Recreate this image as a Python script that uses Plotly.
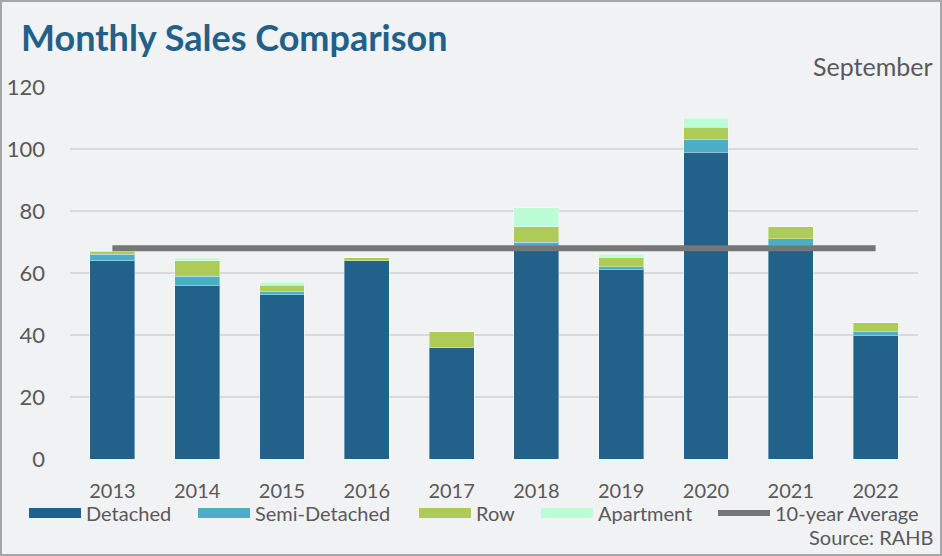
import plotly.graph_objects as go

years = ["2013", "2014", "2015", "2016", "2017", "2018", "2019", "2020", "2021", "2022"]
detached = [64, 56, 53, 64, 36, 69, 61, 99, 69, 40]
semi_detached = [2, 3, 1, 0, 0, 1, 1, 4, 2, 1]
row = [1, 5, 2, 1, 5, 5, 3, 4, 4, 3]
apartment = [0, 1, 1, 0, 0, 6, 1, 3, 0, 0]
ten_year_avg = [68] * 10
y_ticks = [0, 20, 40, 60, 80, 100, 120]

C_DET = "#22618A"
C_SEMI = "#4BADC6"
C_ROW = "#ADCB56"
C_APT = "#BCFDD6"
C_AVG = "#767676"
BG = "#F1F2F4"
TXT = "#595959"
FONT = "Lato"

W, H = 942, 556
L, R, T, B = 70, 24, 87, 97
PW, PH = W - L - R, H - T - B

series = [("Detached", detached, C_DET), ("Semi-Detached", semi_detached, C_SEMI),
          ("Row", row, C_ROW), ("Apartment", apartment, C_APT)]
legend_ids = ["legend", "legend2", "legend3", "legend4", "legend5"]
legend_px = [24, 193, 414, 536, 713]

fig = go.Figure()
for name, vals, col in series:
    fig.add_trace(go.Bar(x=years, y=vals, name=name,
                         marker=dict(color=col, line=dict(width=1, color="rgba(255,255,255,0.35)")),
                         showlegend=False, legendgroup=name))
fig.add_trace(go.Scatter(x=years, y=ten_year_avg, mode="lines", name="10-year Average",
                         line=dict(color=C_AVG, width=6), showlegend=False, legendgroup="avg"))
# legend entries (wide swatches), one legend box per entry
for (name, vals, col), lid in zip(series, legend_ids[:4]):
    fig.add_trace(go.Scatter(x=[None], y=[None], mode="lines", name=name, legendgroup=name,
                             line=dict(color=col, width=13), showlegend=True, legend=lid))
fig.add_trace(go.Scatter(x=[None], y=[None], mode="lines", name="10-year Average", legendgroup="avg",
                         line=dict(color=C_AVG, width=6), showlegend=True, legend=legend_ids[4]))

legend_y = -(513 - (T + PH)) / PH
legend_common = dict(orientation="h", xanchor="left", y=legend_y, yanchor="middle",
                     font=dict(size=20, color=TXT), itemwidth=52, bgcolor="rgba(0,0,0,0)",
                     itemclick=False, itemdoubleclick=False, borderwidth=0)
legend_layout = {lid: dict(x=(px - L) / PW, **legend_common) for lid, px in zip(legend_ids, legend_px)}

fig.update_layout(
    template="none",
    width=W, height=H,
    margin=dict(l=L, r=R, t=T, b=B, pad=0, autoexpand=False),
    paper_bgcolor=BG, plot_bgcolor=BG,
    barmode="stack", bargap=0.47,
    font=dict(family=FONT, color=TXT, size=20),
    showlegend=True,
    hovermode=False,
    xaxis=dict(type="category", showgrid=False, showline=False, zeroline=False,
               tickfont=dict(size=20, color=TXT), ticks="", ticklabelstandoff=18,
               fixedrange=True, automargin=False),
    yaxis=dict(range=[0, 120], tickvals=y_ticks, showgrid=True, gridcolor="#D9D9D9", gridwidth=2,
               zeroline=False, showline=False, tickfont=dict(size=22, color=TXT), ticks="",
               ticklabelstandoff=24, fixedrange=True, automargin=False),
    annotations=[
        dict(text="<b>Monthly Sales Comparison</b>", xref="paper", yref="paper",
             x=(19 - L) / PW, y=1 + (T - 37) / PH, xanchor="left", yanchor="middle", showarrow=False,
             font=dict(size=36, color="#236089", family=FONT)),
        dict(text="September", xref="paper", yref="paper", x=(935 - L) / PW, y=1 + (T - 66) / PH,
             xanchor="right", yanchor="middle", showarrow=False, font=dict(size=25, color=TXT)),
        dict(text="Source: RAHB", xref="paper", yref="paper", x=(935 - L) / PW, y=-(537 - (T + PH)) / PH,
             xanchor="right", yanchor="middle", showarrow=False, font=dict(size=20, color=TXT)),
    ],
    shapes=[dict(type="rect", xref="paper", yref="paper", x0=-(L - 1) / PW, x1=1 + (R - 1) / PW,
                 y0=-(B - 1) / PH, y1=1 + (T - 1) / PH, line=dict(color="#A6A6A6", width=2), layer="above")],
    **legend_layout,
)

fig.write_html("out.html", config={"displayModeBar": False, "staticPlot": False},
               post_script="document.body.style.margin='0';document.body.style.overflow='hidden';")
